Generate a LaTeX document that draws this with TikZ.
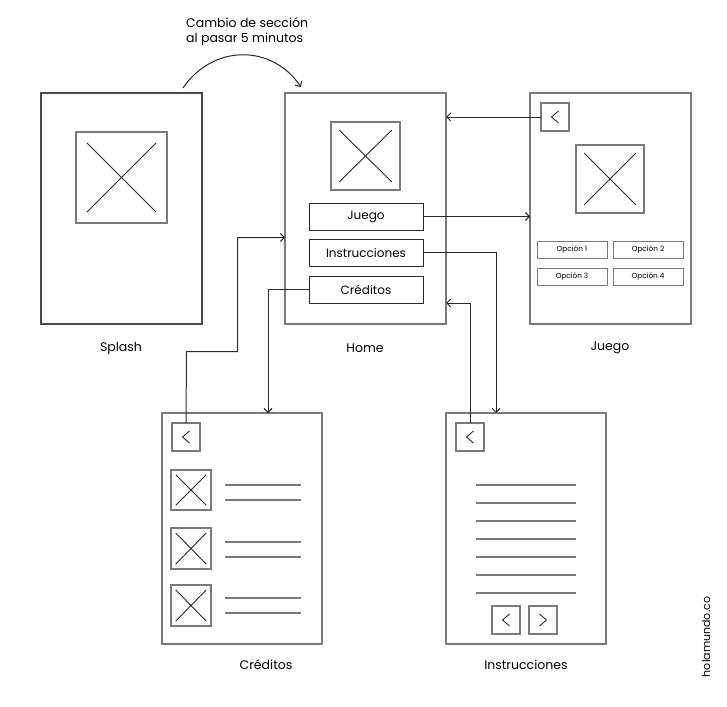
\documentclass[tikz,border=0pt]{standalone}
\usepackage{fontspec}
\setmainfont{Poppins}
\usetikzlibrary{arrows.meta,calc}
\definecolor{fr}{HTML}{7A7A7A}
\definecolor{ln}{HTML}{2A2A2A}
\begin{document}
\begin{tikzpicture}[x=1pt,y=-1pt,
  frame/.style={draw=fr,line width=1.4pt,inner sep=0pt,outer sep=0pt,anchor=north west},
  imgbox/.style={draw=fr,line width=1.2pt,inner sep=0pt,outer sep=0pt,anchor=north west},
  btn/.style={draw=ln,line width=1pt,inner sep=0pt,outer sep=0pt,anchor=north west,font=\fontsize{12}{14}\selectfont},
  opt/.style={draw=fr,line width=1pt,inner sep=0pt,outer sep=0pt,anchor=north west,font=\fontsize{7.3}{9}\selectfont},
  bk/.style={draw=fr,line width=1.2pt,inner sep=0pt,outer sep=0pt,anchor=north west,minimum width=28pt,minimum height=28pt},
  lbl/.style={font=\fontsize{12.5}{15}\selectfont,inner sep=0pt},
  xline/.style={draw=ln,line width=0.9pt},
  txt/.style={draw=fr,line width=1.3pt},
  chev/.style={draw=ln,line width=0.9pt},
  conn/.style={draw=ln,line width=1pt},
  arr/.style={conn,-{Straight Barb[length=4pt,width=8pt]}}
]
\useasboundingbox (0,0) rectangle (727,706);
\fill[white] (0,0) rectangle (727,706);

% pages
\node[frame,draw=ln!85,line width=1.2pt,minimum width=161pt,minimum height=231pt] (splash) at (41,93) {};
\node[frame,minimum width=161pt,minimum height=231pt] (home) at (285,93) {};
\node[frame,minimum width=161pt,minimum height=231pt] (juego) at (530,93) {};
\node[frame,minimum width=160pt,minimum height=231pt] (cred) at (162,413) {};
\node[frame,minimum width=160pt,minimum height=231pt] (instr) at (446,413) {};

% labels
\node[lbl] (lsplash) at (121,348) {Splash};
\node[lbl] (lhome) at (365,348) {Home};
\node[lbl] (ljuego) at (610,348) {Juego};
\node[lbl] (lcred) at (266,665) {Créditos};
\node[lbl] (linstr) at (526,665) {Instrucciones};
\node[lbl,align=left,anchor=west,font=\fontsize{12.5}{15}\selectfont] (title) at (186,32) {Cambio de sección\\al pasar 5 minutos};
\node[inner sep=0pt,rotate=90,font=\fontsize{11}{13}\selectfont] (brand) at (706,637) {holamundo.co};

% images
\node[imgbox,minimum width=91pt,minimum height=91pt] (isplash) at (76,132) {};
\node[imgbox,minimum width=69pt,minimum height=68pt] (ihome) at (331,122) {};
\node[imgbox,minimum width=68pt,minimum height=68pt] (ijuego) at (576,145) {};
\node[imgbox,minimum width=40pt,minimum height=40pt] (ic1) at (171,470) {};
\node[imgbox,minimum width=40pt,minimum height=41pt] (ic2) at (171,528) {};
\node[imgbox,minimum width=40pt,minimum height=41pt] (ic3) at (171,585) {};
\foreach \n in {isplash,ihome,ijuego,ic1,ic2,ic3}{
  \draw[xline] ($(\n.north west)!.12!(\n.south east)$) -- ($(\n.north west)!.88!(\n.south east)$);
  \draw[xline] ($(\n.north east)!.12!(\n.south west)$) -- ($(\n.north east)!.88!(\n.south west)$);
}

% home buttons
\node[btn,minimum width=114pt,minimum height=27pt] (bjuego) at (309,203) {Juego};
\node[btn,minimum width=114pt,minimum height=27pt] (binstr) at (309,239) {Instrucciones};
\node[btn,minimum width=114pt,minimum height=27pt] (bcred) at (309,276) {Créditos};

% juego options
\node[opt,minimum width=70pt,minimum height=17pt] (o1) at (537,241) {Opción 1};
\node[opt,minimum width=70pt,minimum height=17pt] (o2) at (613,241) {Opción 2};
\node[opt,minimum width=70pt,minimum height=17pt] (o3) at (537,268) {Opción 3};
\node[opt,minimum width=70pt,minimum height=17pt] (o4) at (613,268) {Opción 4};

% back / nav buttons
\node[bk] (jbk) at (541,103) {};
\node[bk] (cbk) at (172,423) {};
\node[bk] (ibk) at (456,423) {};
\node[bk] (nprev) at (492,606) {};
\node[bk] (nnext) at (529,606) {};
\foreach \n in {jbk,cbk,ibk,nprev}{
  \draw[chev] ($(\n.center)+(3.5,-6)$) -- ($(\n.center)+(-3.5,0)$) -- ($(\n.center)+(3.5,6)$);
}
\draw[chev] ($(nnext.center)+(-3.5,-6)$) -- ($(nnext.center)+(3.5,0)$) -- ($(nnext.center)+(-3.5,6)$);

% text lines in Créditos
\foreach \y in {485,500,542,557,598,613}{
  \draw[txt] (225,\y) -- (301,\y);
}
% text lines in Instrucciones
\foreach \y in {485,503,521,539,557,575,593}{
  \draw[txt] (476,\y) -- (576,\y);
}

% connectors
\coordinate (cs) at (183,88);
\coordinate (ce) at (301,87);
\draw[arr] (cs) .. controls (213,44) and (272,44) .. (ce);

\draw[arr] (jbk.west) -- (jbk.west -| home.east);
\draw[arr] (bjuego.east) -- (bjuego.east -| juego.west);

\coordinate (iin) at (496,413);
\draw[arr] (binstr.east) -| (iin);

\coordinate (hret) at (446,303);
\draw[arr] (ibk.north) |- (hret);

\coordinate (cin) at (268,413);
\draw[arr] (bcred.west) -| (cin);

\coordinate (cb1) at (186.5,351.5);
\coordinate (cb2) at (237.5,351.5);
\coordinate (hin) at (285,237.5);
\draw[arr] (cbk.north) -- (cb1) -- (cb2) |- (hin);

\end{tikzpicture}
\end{document}
